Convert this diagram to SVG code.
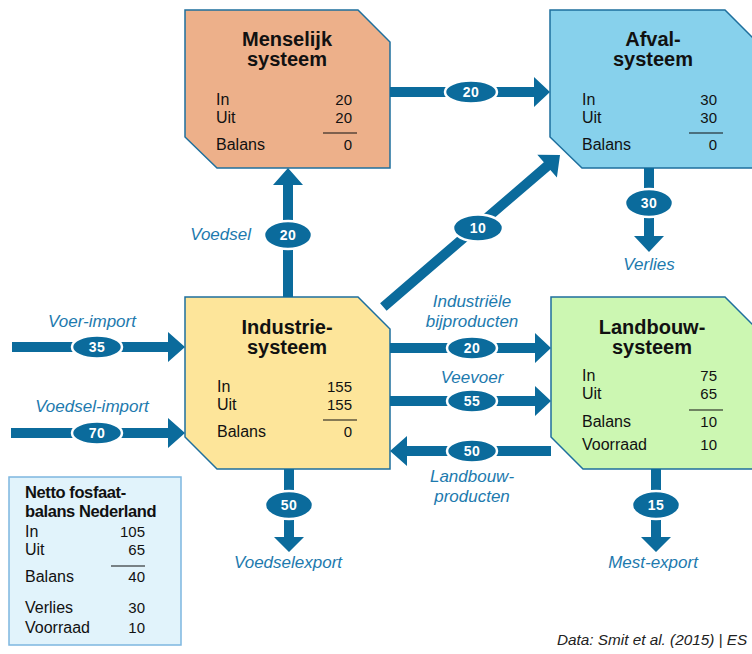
<svg xmlns="http://www.w3.org/2000/svg" width="752" height="654" viewBox="0 0 752 654">
<style>
.arrow{fill:#0B6B9C}
.pill{fill:#0B6B9C;stroke:#fff;stroke-width:2.5}
.pt{font-family:"Liberation Sans",Arial,sans-serif;font-weight:bold;font-size:14px;fill:#fff;text-anchor:middle;letter-spacing:0.5px}
.lbl{font-family:"Liberation Sans",Arial,sans-serif;font-style:italic;font-size:17px;fill:#1D7AAE;text-anchor:middle}
.lble{font-family:"Liberation Sans",Arial,sans-serif;font-style:italic;font-size:17px;fill:#1D7AAE;text-anchor:end}
.box{stroke:#1E6F9D;stroke-width:1.5}
.title{font-family:"Liberation Sans",Arial,sans-serif;font-weight:bold;font-size:20px;fill:#111;text-anchor:middle}
.row{font-family:"Liberation Sans",Arial,sans-serif;font-size:16px;fill:#111}
.ntitle{font-family:"Liberation Sans",Arial,sans-serif;font-weight:bold;font-size:16.5px;fill:#111;letter-spacing:-0.4px}
.num{font-family:"Liberation Sans",Arial,sans-serif;font-size:15px;fill:#111;text-anchor:end}
.rule{stroke:#111;stroke-width:1.2}
</style>
<rect width="752" height="654" fill="#fff"/>

<g id="menselijk">
<path class="box" fill="#EDB08A" d="M185 10 H358 L390 42 V168 H217 L185 137 Z"/>
<text class="title" x="287" y="46">Menselijk</text>
<text class="title" x="287" y="66">systeem</text>
<text class="row" x="216" y="105">In</text><text class="num" x="352" y="105">20</text>
<text class="row" x="216" y="123">Uit</text><text class="num" x="352" y="123">20</text>
<line class="rule" x1="323" y1="133" x2="357" y2="133"/>
<text class="row" x="216" y="150">Balans</text><text class="num" x="352" y="150">0</text>
</g>

<g id="afval">
<path class="box" fill="#87D1EC" d="M550 10 H725 L757 42 V168 H582 L550 137 Z"/>
<text class="title" x="653" y="46">Afval-</text>
<text class="title" x="653" y="66">systeem</text>
<text class="row" x="582" y="105">In</text><text class="num" x="717" y="105">30</text>
<text class="row" x="582" y="123">Uit</text><text class="num" x="717" y="123">30</text>
<line class="rule" x1="689" y1="133" x2="723" y2="133"/>
<text class="row" x="582" y="150">Balans</text><text class="num" x="717" y="150">0</text>
</g>

<g id="industrie">
<path class="box" fill="#FDE59A" d="M185 297 H358 L390 329 V469 H217 L185 437 Z"/>
<text class="title" x="287" y="334">Industrie-</text>
<text class="title" x="287" y="354">systeem</text>
<text class="row" x="217" y="392">In</text><text class="num" x="352" y="392">155</text>
<text class="row" x="217" y="410">Uit</text><text class="num" x="352" y="410">155</text>
<line class="rule" x1="323" y1="420" x2="357" y2="420"/>
<text class="row" x="217" y="437">Balans</text><text class="num" x="352" y="437">0</text>
</g>

<g id="landbouw">
<path class="box" fill="#CCF7B2" d="M551 297 H725 L757 329 V469 H583 L551 437 Z"/>
<text class="title" x="652" y="334">Landbouw-</text>
<text class="title" x="652" y="354">systeem</text>
<text class="row" x="582" y="381">In</text><text class="num" x="717" y="381">75</text>
<text class="row" x="582" y="399">Uit</text><text class="num" x="717" y="399">65</text>
<line class="rule" x1="689" y1="410" x2="723" y2="410"/>
<text class="row" x="582" y="427">Balans</text><text class="num" x="717" y="427">10</text>
<text class="row" x="582" y="450">Voorraad</text><text class="num" x="717" y="450">10</text>
</g>

<g id="netto">
<rect x="9" y="477" width="172" height="168" fill="#E1F3FB" stroke="#7DB7E0" stroke-width="1.5"/>
<text class="ntitle" x="25" y="498">Netto fosfaat-</text>
<text class="ntitle" x="25" y="517">balans Nederland</text>
<text class="row" x="25" y="537">In</text><text class="num" x="145" y="537">105</text>
<text class="row" x="25" y="555">Uit</text><text class="num" x="145" y="555">65</text>
<line class="rule" x1="111" y1="566" x2="145" y2="566"/>
<text class="row" x="25" y="582">Balans</text><text class="num" x="145" y="582">40</text>
<text class="row" x="25" y="613">Verlies</text><text class="num" x="145" y="613">30</text>
<text class="row" x="25" y="633">Voorraad</text><text class="num" x="145" y="633">10</text>
</g>

<g id="connectors">
<path class="arrow" d="M283 297 V185 H273 L288 168 L303 185 H293 V297 Z"/>
<ellipse class="pill" cx="288" cy="235" rx="24" ry="14"/>
<text class="pt" x="288" y="240">20</text>
<text class="lble" x="251" y="240">Voedsel</text>

<path class="arrow" d="M390 87 H534 V77 L550 92 L534 107 V97 H390 Z"/>
<ellipse class="pill" cx="471" cy="92" rx="26" ry="11.5"/>
<text class="pt" x="471" y="97">20</text>

<path class="arrow" transform="translate(560,155) rotate(-40.7)" d="M-233 -5 H-17 V-15 L0 0 L-17 15 V5 H-233 Z"/>
<ellipse class="pill" cx="478" cy="228" rx="25" ry="13.5"/>
<text class="pt" x="478" y="233">10</text>

<path class="arrow" d="M644 168 V236 H634 L649 252 L664 236 H654 V168 Z"/>
<ellipse class="pill" cx="649" cy="203" rx="24" ry="14"/>
<text class="pt" x="649" y="208">30</text>
<text class="lbl" x="649" y="270">Verlies</text>

<path class="arrow" d="M12 342 H168 V332 L185 347 L168 362 V352 H12 Z"/>
<ellipse class="pill" cx="97" cy="347" rx="25" ry="11.5"/>
<text class="pt" x="97" y="352">35</text>
<text class="lbl" x="92" y="327">Voer-import</text>

<path class="arrow" d="M11 428 H168 V418 L185 433 L168 448 V438 H11 Z"/>
<ellipse class="pill" cx="97" cy="433" rx="25" ry="11.5"/>
<text class="pt" x="97" y="438">70</text>
<text class="lbl" x="92" y="412">Voedsel-import</text>

<path class="arrow" d="M390 343 H535 V333 L551 348 L535 363 V353 H390 Z"/>
<ellipse class="pill" cx="472" cy="348" rx="25" ry="11.5"/>
<text class="pt" x="472" y="353">20</text>
<text class="lbl" x="472" y="307">Industriële</text>
<text class="lbl" x="472" y="327">bijproducten</text>

<path class="arrow" d="M390 396 H535 V386 L551 401 L535 416 V406 H390 Z"/>
<ellipse class="pill" cx="472" cy="401" rx="25" ry="11.5"/>
<text class="pt" x="472" y="406">55</text>
<text class="lbl" x="472" y="383">Veevoer</text>

<path class="arrow" d="M551 446 H407 V436 L390 451 L407 466 V456 H551 Z"/>
<ellipse class="pill" cx="472" cy="451" rx="25" ry="11.5"/>
<text class="pt" x="472" y="456">50</text>
<text class="lbl" x="472" y="482">Landbouw-</text>
<text class="lbl" x="472" y="502">producten</text>

<path class="arrow" d="M284 469 V537 H274 L289 552 L304 537 H294 V469 Z"/>
<ellipse class="pill" cx="289" cy="505" rx="24" ry="14"/>
<text class="pt" x="289" y="510">50</text>
<text class="lbl" x="288" y="568">Voedselexport</text>

<path class="arrow" d="M651 469 V537 H641 L656 552 L671 537 H661 V469 Z"/>
<ellipse class="pill" cx="656" cy="505" rx="24" ry="14"/>
<text class="pt" x="656" y="510">15</text>
<text class="lbl" x="653" y="568">Mest-export</text>
</g>

<text x="557" y="645" font-family="'Liberation Sans',Arial,sans-serif" font-style="italic" font-size="15.3" fill="#222">Data: Smit et al. (2015) | ES</text>
</svg>
